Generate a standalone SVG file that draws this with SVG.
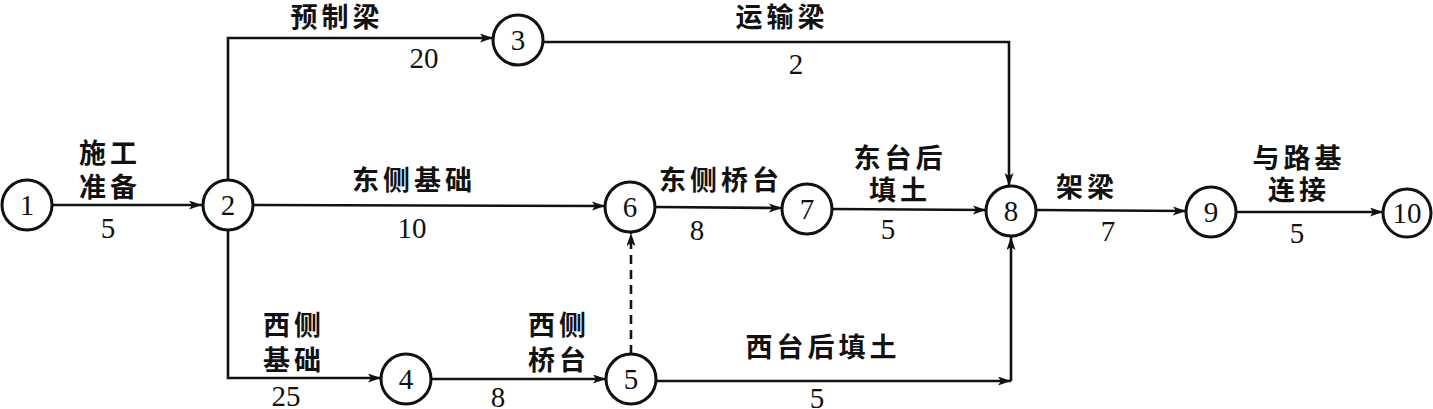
<svg xmlns="http://www.w3.org/2000/svg" width="1433" height="409" viewBox="0 0 1433 409">
<style>
.n circle{fill:#fff;stroke:#111;stroke-width:3}
.n text,.num{font-family:"Liberation Serif","Times New Roman",serif;font-size:29px;fill:#111;text-anchor:middle}
.lbl{font-family:"Noto Sans CJK SC","Noto Sans",sans-serif;font-size:27px;font-weight:700;fill:#111;text-anchor:middle;letter-spacing:4px}
.e{fill:none;stroke:#111;stroke-width:2.6}
.d{stroke-dasharray:9 6}
</style>
<defs>
<marker id="ah" markerUnits="userSpaceOnUse" markerWidth="14" markerHeight="10" refX="13" refY="4.5" orient="auto">
<path d="M0,0 L13,4.5 L0,9 L3,4.5 z" fill="#111"/>
</marker>
</defs>
<rect width="1433" height="409" fill="#fff"/>
<g id="edges">
<path class="e" d="M52,205 L202,205" marker-end="url(#ah)"/>
<path class="e" d="M228,180 L228,38 L493,38" marker-end="url(#ah)"/>
<path class="e" d="M543,42 L1009,42 L1009,186" marker-end="url(#ah)"/>
<path class="e" d="M253,205 L605,206" marker-end="url(#ah)"/>
<path class="e" d="M655,207 L782,208" marker-end="url(#ah)"/>
<path class="e" d="M832,209 L986,210" marker-end="url(#ah)"/>
<path class="e" d="M1036,210 L1186,211" marker-end="url(#ah)"/>
<path class="e" d="M1236,212 L1383,212" marker-end="url(#ah)"/>
<path class="e" d="M228,230 L228,378 L381,378" marker-end="url(#ah)"/>
<path class="e" d="M431,379 L606,379" marker-end="url(#ah)"/>
<path class="e d" d="M631,354 L631,233" marker-end="url(#ah)"/>
<path class="e" d="M656,381 L1011,381" marker-end="url(#ah)"/>
<path class="e" d="M1011,381 L1011,237" marker-end="url(#ah)"/>
</g>
<g id="labels">
<text class="lbl" x="337" y="27">预制梁</text>
<text class="num" x="424" y="68">20</text>
<text class="lbl" x="110" y="163">施工</text>
<text class="lbl" x="110" y="197">准备</text>
<text class="num" x="108" y="238">5</text>
<text class="lbl" x="414" y="190">东侧基础</text>
<text class="num" x="412" y="238">10</text>
<text class="lbl" x="782" y="27">运输梁</text>
<text class="num" x="796" y="74">2</text>
<text class="lbl" x="721" y="190">东侧桥台</text>
<text class="num" x="697" y="240">8</text>
<text class="lbl" x="900" y="168">东台后</text>
<text class="lbl" x="900" y="200">填土</text>
<text class="num" x="888" y="239">5</text>
<text class="lbl" x="1087" y="197">架梁</text>
<text class="num" x="1108" y="241">7</text>
<text class="lbl" x="1299" y="168">与路基</text>
<text class="lbl" x="1299" y="200">连接</text>
<text class="num" x="1297" y="243">5</text>
<text class="lbl" x="294" y="335">西侧</text>
<text class="lbl" x="294" y="370">基础</text>
<text class="num" x="286" y="406">25</text>
<text class="num" x="498" y="407">8</text>
<text class="lbl" x="559" y="335">西侧</text>
<text class="lbl" x="559" y="370">桥台</text>
<text class="lbl" x="823" y="357">西台后填土</text>
<text class="num" x="817" y="408">5</text>
</g>
<g id="node1" class="n"><circle cx="27" cy="205" r="25"/><text x="27" y="215">1</text></g>
<g id="node2" class="n"><circle cx="228" cy="205" r="25"/><text x="228" y="215">2</text></g>
<g id="node3" class="n"><circle cx="518" cy="40" r="25"/><text x="518" y="50">3</text></g>
<g id="node4" class="n"><circle cx="406" cy="379" r="25"/><text x="406" y="389">4</text></g>
<g id="node5" class="n"><circle cx="631" cy="379" r="25"/><text x="631" y="389">5</text></g>
<g id="node6" class="n"><circle cx="630" cy="207" r="25"/><text x="630" y="217">6</text></g>
<g id="node7" class="n"><circle cx="807" cy="209" r="25"/><text x="807" y="219">7</text></g>
<g id="node8" class="n"><circle cx="1011" cy="211" r="25"/><text x="1011" y="221">8</text></g>
<g id="node9" class="n"><circle cx="1211" cy="212" r="25"/><text x="1211" y="222">9</text></g>
<g id="node10" class="n"><circle cx="1407" cy="213" r="24"/><text x="1407" y="223">10</text></g>
</svg>
